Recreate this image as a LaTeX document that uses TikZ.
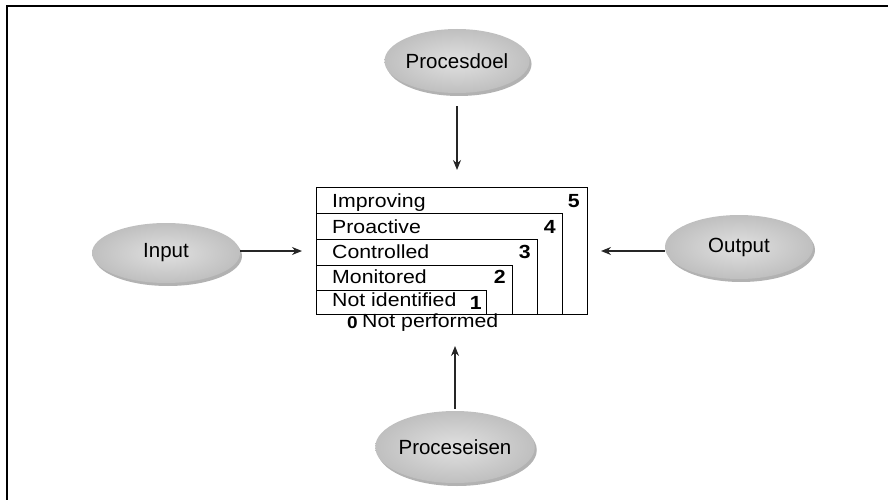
\documentclass[tikz,border=0pt]{standalone}
\usepackage{fontspec}
\setmainfont{Liberation Sans}
\newfontfamily\boxfont[FakeStretch=1.12]{Liberation Sans}
\usetikzlibrary{arrows.meta,shapes.geometric,shadows}
\begin{document}
\begin{tikzpicture}[x=1pt,y=-1pt,
  oval/.style={ellipse, draw=none, inner color=black!12, outer color=black!25,
    font=\fontsize{20.5}{24}\selectfont, inner sep=0pt,
    drop shadow={shadow xshift=2pt, shadow yshift=-3pt, fill=black, opacity=.3}},
  lvl/.style={draw, line width=1pt},
  lbl/.style={anchor=base west, inner sep=0pt, font=\boxfont\fontsize{19}{22}\selectfont},
  num/.style={anchor=base east, inner sep=0pt, font=\boxfont\bfseries\fontsize{19}{22}\selectfont},
  conn/.style={-{Stealth[length=10pt,width=8pt]}, line width=1.2pt, black!85}]
\useasboundingbox (0,0) rectangle (888,500);
\draw[line width=2pt] (7,500) -- (7,6) -- (888,6);

% nested level box
\node[lvl, minimum width=271pt, minimum height=127pt, anchor=north west, inner sep=0pt] (box) at (316,187) {};
\draw[lvl] (316,213) rectangle (562,314);
\draw[lvl] (316,239) rectangle (537,314);
\draw[lvl] (316,265) rectangle (512,314);
\draw[lvl] (316,290) rectangle (486,314);

\node[lbl] (l5) at (332,207) {Improving};
\node[lbl] (l4) at (332,233) {Proactive};
\node[lbl] (l3) at (332,258) {Controlled};
\node[lbl] (l2) at (332,283) {Monitored};
\node[lbl] (l1) at (332,306) {Not identified};
\node[num] (n5) at (580,207) {5};
\node[num] (n4) at (556,233) {4};
\node[num] (n3) at (531,258) {3};
\node[num] (n2) at (506,283) {2};
\node[num] (n1) at (482,309) {1};
\node[num, anchor=base west, font=\boxfont\bfseries\fontsize{17}{20}\selectfont] (n0) at (347,328) {0};
\node[lbl] (l0) at (362,327) {Not performed};

% ovals
\node[oval, minimum width=136pt, minimum height=64pt] (doel) at (457,61) {Procesdoel};
\node[oval, minimum width=148pt, minimum height=60pt] (in) at (166,253) {Input};
\node[oval, minimum width=148pt, minimum height=64pt] (out) at (739,247) {Output};
\node[oval, minimum width=146pt, minimum height=72pt] (eisen) at (455,447) {Proceseisen};

% connectors
\draw[conn, shorten <=13pt, shorten >=17pt] (doel.south) -- (doel.south |- box.north);
\draw[conn, shorten >=14pt] (in.east |- box.west) -- (box.west);
\draw[conn, shorten >=13pt] (out.west |- box.east) -- (box.east);
\draw[conn, shorten <=2pt, shorten >=31pt] (eisen.north) -- (eisen.north |- box.south);
\end{tikzpicture}
\end{document}
